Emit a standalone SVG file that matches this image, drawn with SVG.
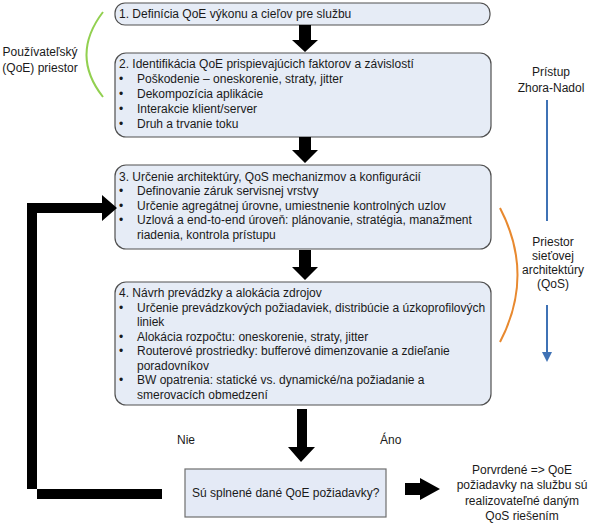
<svg xmlns="http://www.w3.org/2000/svg" width="590" height="524" viewBox="0 0 590 524">
<style>
text{font-family:"Liberation Sans",Arial,sans-serif;font-size:12px;fill:#1a1a1a}
.box{fill:#e6ecf6;stroke:#505050;stroke-width:1.2}
.c{text-anchor:middle}
.blk{fill:#000}
</style>
<defs>
<marker id="bh" markerWidth="10" markerHeight="10" refX="8" refY="5" orient="auto" markerUnits="userSpaceOnUse" viewBox="0 0 10 10">
<path d="M0,0 L10,5 L0,10 z" fill="#3f72b5"/>
</marker>
</defs>
<rect width="590" height="524" fill="#fff"/>
<g id="n1">
<rect class="box" x="115" y="3" width="375" height="22" rx="10"/>
<text x="119" y="18">1. Definícia QoE výkonu a cieľov pre službu</text>
</g>
<g id="n2">
<rect class="box" x="115" y="53" width="376" height="84" rx="11"/>
<text x="119" y="68">2. Identifikácia QoE prispievajúcich faktorov a závislostí</text>
<text x="119" y="83">•</text><text x="137" y="83">Poškodenie – oneskorenie, straty, jitter</text>
<text x="119" y="98">•</text><text x="137" y="98">Dekompozícia aplikácie</text>
<text x="119" y="113">•</text><text x="137" y="113">Interakcie klient/server</text>
<text x="119" y="128">•</text><text x="137" y="128">Druh a trvanie toku</text>
</g>
<g id="n3">
<rect class="box" x="115" y="165" width="376" height="84" rx="11"/>
<text x="119" y="181">3. Určenie architektúry, QoS mechanizmov a konfigurácií</text>
<text x="119" y="195">•</text><text x="137" y="195">Definovanie záruk servisnej vrstvy</text>
<text x="119" y="210">•</text><text x="137" y="210">Určenie agregátnej úrovne, umiestnenie kontrolných uzlov</text>
<text x="119" y="224">•</text><text x="137" y="224">Uzlová a end-to-end úroveň: plánovanie, stratégia, manažment</text>
<text x="137" y="239">riadenia, kontrola prístupu</text>
</g>
<g id="n4">
<rect class="box" x="115" y="282" width="376" height="123" rx="11"/>
<text x="119" y="297">4. Návrh prevádzky a alokácia zdrojov</text>
<text x="119" y="312">•</text><text x="137" y="312">Určenie prevádzkových požiadaviek, distribúcie a úzkoprofilových</text>
<text x="137" y="326">liniek</text>
<text x="119" y="341">•</text><text x="137" y="341">Alokácia rozpočtu: oneskorenie, straty, jitter</text>
<text x="119" y="355">•</text><text x="137" y="355">Routerové prostriedky: bufferové dimenzovanie a zdieľanie</text>
<text x="137" y="370">poradovníkov</text>
<text x="119" y="384">•</text><text x="137" y="384">BW opatrenia: statické vs. dynamické/na požiadanie a</text>
<text x="137" y="399">smerovacích obmedzení</text>
</g>
<g id="n5">
<rect x="185" y="469" width="201" height="48" fill="#e4eaf6" stroke="#6e6e6e" stroke-width="1.2"/>
<text x="192" y="497">Sú splnené dané QoE požiadavky?</text>
</g>
<g id="n6">
<text class="c" x="522" y="474">Porvrdené =&gt; QoE</text>
<text class="c" x="522" y="489">požiadavky na službu sú</text>
<text class="c" x="522" y="505">realizovateľné daným</text>
<text class="c" x="522" y="520">QoS riešením</text>
</g>
<g id="lab-user">
<path d="M103,12 Q70,55 103,97" fill="none" stroke="#92d050" stroke-width="2"/>
<text class="c" x="40" y="56">Používateľský</text>
<text class="c" x="40" y="72">(QoE) priestor</text>
</g>
<g id="lab-net">
<path d="M500,208 Q535,275 500,342" fill="none" stroke="#e8892f" stroke-width="2"/>
<text class="c" x="553" y="246">Priestor</text>
<text class="c" x="553" y="260">sieťovej</text>
<text class="c" x="553" y="274">architektúry</text>
<text class="c" x="553" y="288">(QoS)</text>
</g>
<g id="lab-top">
<text class="c" x="551" y="76">Prístup</text>
<text class="c" x="551" y="92">Zhora-Nadol</text>
<line x1="547" y1="100" x2="547" y2="221" stroke="#3f72b5" stroke-width="2"/>
<line x1="547" y1="305" x2="547" y2="360" stroke="#3f72b5" stroke-width="2" marker-end="url(#bh)"/>
</g>
<g id="connectors">
<path class="blk" d="M299,25 H311 V40 H318 L305,52 L292,40 H299 Z"/>
<path class="blk" d="M299,137 H311 V150 H318 L305,163 L292,150 H299 Z"/>
<path class="blk" d="M299,250 H311 V267 H318 L305,280 L292,267 H299 Z"/>
<path class="blk" d="M297,409 H307 V447 H315 L301,462 L288,447 H297 Z"/>
<path class="blk" d="M405,483 H420 V478 L440,489 L420,500 V495 H405 Z"/>
<path class="blk" d="M162,489 H27 V203 H102 V195 L117,208 L102,221 V213 H37 V499 H162 Z"/>
<text x="177" y="444">Nie</text>
<text x="380" y="444">Áno</text>
</g>
</svg>
